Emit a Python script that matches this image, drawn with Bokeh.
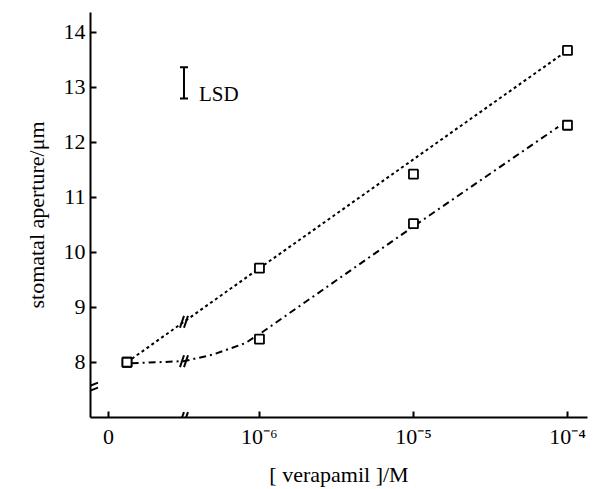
from bokeh.plotting import figure
from bokeh.models import Range1d, FixedTicker, ColumnDataSource, Whisker, TeeHead
from bokeh.embed import file_html
from bokeh.resources import INLINE
from bokeh.core.properties import value

# ---------------- data ----------------
# x axis: log10 of verapamil concentration (M); the control (0) sits left of the axis break
x_tick_pos = [-6.98, -6, -5, -4]
x_tick_labels = ["0", "10\u207b\u2076", "10\u207b\u2075", "10\u207b\u2074"]
y_ticks = [8, 9, 10, 11, 12, 13, 14]

conc_log = [-6.86, -6.0, -5.0, -4.0]          # control, 1e-6, 1e-5, 1e-4
aperture_a = [8.0, 9.71, 11.42, 13.67]          # dotted series
aperture_b = [8.0, 8.42, 10.52, 12.31]          # dash-dot series

fit_a_x = [-6.86, -6.0, -4.0]
fit_a_y = [8.0, 9.71, 13.67]
fit_b_x = [-6.83, -6.49, -6.30, -6.09, -5.98, -5.0, -4.06]
fit_b_y = [7.98, 8.02, 8.14, 8.35, 8.55, 10.47, 12.28]

lsd_x = -6.49
lsd_center = 13.08
lsd_value = 0.57

x_break = -6.49
y_break = 7.53

# ---------------- figure ----------------
W, H = 597, 489
ML, MR, MT, MB = 90, 10, 12, 67
x0, x1 = -7.097, -3.87
y0, y1 = 6.995, 14.36
fw, fh = W - ML - MR, H - MT - MB
sx = (x1 - x0) / fw   # data per px
sy = (y1 - y0) / fh

p = figure(width=W, height=H, output_backend="svg", toolbar_location=None,
           x_range=Range1d(x0, x1), y_range=Range1d(y0, y1),
           min_border_left=ML, min_border_right=MR, min_border_top=MT, min_border_bottom=MB)
p.outline_line_color = None
p.xgrid.visible = False
p.ygrid.visible = False
p.background_fill_color = "white"
p.border_fill_color = "white"

serif = "Liberation Serif"
for ax in (p.xaxis[0], p.yaxis[0]):
    ax.axis_line_width = 2
    ax.axis_line_color = "black"
    ax.major_tick_line_width = 2
    ax.major_tick_in = 6
    ax.major_tick_out = 0
    ax.minor_tick_line_color = None
    ax.major_label_text_font = serif
    ax.major_label_text_font_size = "22px"
    ax.major_label_text_color = "black"
    ax.axis_label_text_font = serif
    ax.axis_label_text_font_size = "22px"
    ax.axis_label_text_font_style = "normal"
    ax.axis_label_text_color = "black"

p.xaxis.ticker = FixedTicker(ticks=x_tick_pos)
p.xaxis.major_label_overrides = {t: l for t, l in zip(x_tick_pos, x_tick_labels)}
p.xaxis.major_label_standoff = 6
p.xaxis.axis_label = "[ verapamil ]/M"
p.xaxis.axis_label_standoff = 10

p.yaxis.ticker = FixedTicker(ticks=y_ticks)
p.yaxis.major_label_standoff = 5
p.yaxis.axis_label = "stomatal aperture/\u03bcm"
p.yaxis.axis_label_standoff = 12

# fitted lines
p.line(fit_a_x, fit_a_y, line_color="black", line_width=2, line_dash="3 3")
p.line(fit_b_x, fit_b_y, line_color="black", line_width=2, line_dash="7 4 2 4")

# data points
p.scatter(conc_log, aperture_a, marker="square", size=9, fill_color="white",
          line_color="black", line_width=1.8)
p.scatter(conc_log, aperture_b, marker="square", size=9, fill_color="white",
          line_color="black", line_width=1.8)

# LSD bar
lsd_src = ColumnDataSource(dict(base=[lsd_x], lower=[lsd_center - lsd_value / 2],
                                upper=[lsd_center + lsd_value / 2]))
p.add_layout(Whisker(source=lsd_src, base="base", lower="lower", upper="upper",
                     dimension="height", line_width=2, line_color="black",
                     upper_head=TeeHead(size=8, line_width=2, line_color="black"),
                     lower_head=TeeHead(size=8, line_width=2, line_color="black")))
p.text([lsd_x + 15 * sx], [lsd_center - 0.2], text=["LSD"], text_font=value(serif),
       text_font_size="21px", text_baseline="middle", text_align="left", text_color="black")

# ---------------- break marks ----------------
def break_mark(xc, yc, dx_px, dy_px, gap_x_px, gap_y_px, clear_w, clear_h):
    # white-out the underlying line, then two parallel slashes
    p.rect([xc], [yc], width=clear_w * sx, height=clear_h * sy, fill_color="white",
           line_color=None)
    xs0, ys0, xs1, ys1 = [], [], [], []
    for s in (-0.5, 0.5):
        cx = xc + s * gap_x_px * sx
        cy = yc + s * gap_y_px * sy
        xs0.append(cx - dx_px / 2 * sx); ys0.append(cy - dy_px / 2 * sy)
        xs1.append(cx + dx_px / 2 * sx); ys1.append(cy + dy_px / 2 * sy)
    p.segment(xs0, ys0, xs1, ys1, line_color="black", line_width=2)

# y-axis break
break_mark(x0, y_break, 15, 6, 0, 5, 8, 4)
# x-axis break
break_mark(x_break, y0, 4, 11, 4, 0, 4, 8)
# breaks on the two lines
ya_brk = fit_a_y[0] + (fit_a_y[1] - fit_a_y[0]) * (x_break - fit_a_x[0]) / (fit_a_x[1] - fit_a_x[0])
break_mark(x_break, ya_brk, 4, 12, 4, 0, 5, 0.01)
break_mark(x_break, fit_b_y[1], 4, 12, 4, 0, 5, 0.01)

open("out.html", "w").write(file_html(p, INLINE))
